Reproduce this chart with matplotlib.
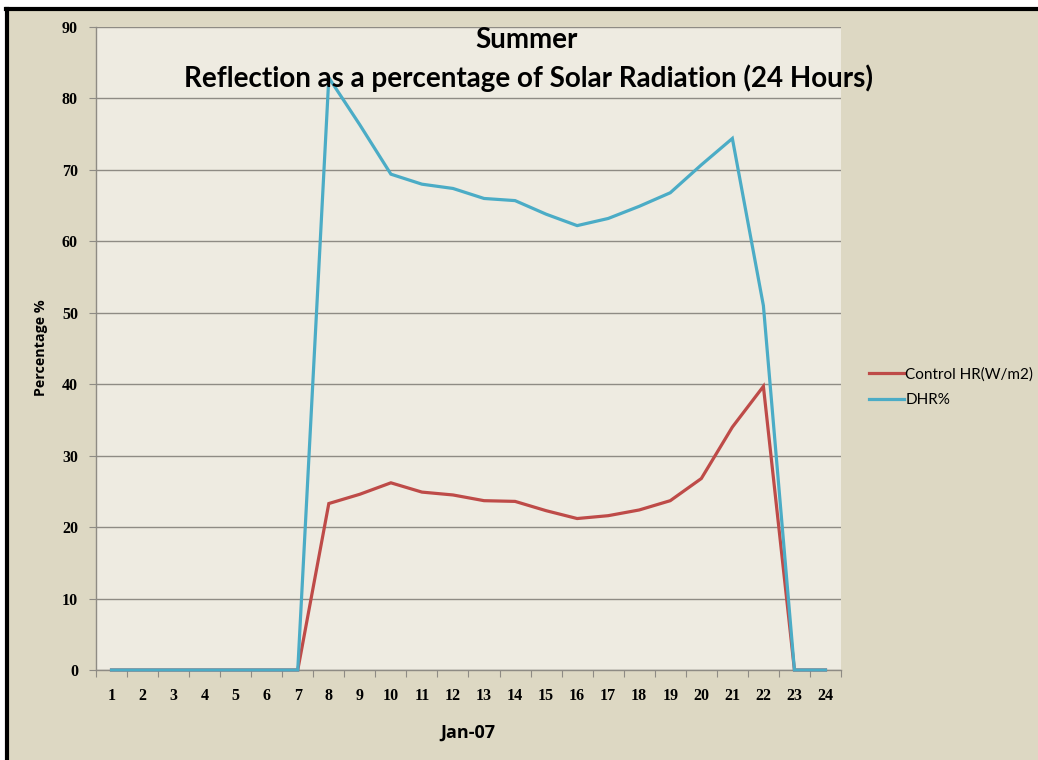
import matplotlib
matplotlib.use("Agg")
import matplotlib.pyplot as plt
from matplotlib.lines import Line2D
from matplotlib.patches import Rectangle

hours = list(range(1, 25))
hour_labels = [str(h) for h in hours]
control_hr = [0, 0, 0, 0, 0, 0, 0, 23.3, 24.6, 26.2, 24.9, 24.5, 23.7, 23.6,
              22.3, 21.2, 21.6, 22.4, 23.7, 26.8, 34.0, 39.7, 0, 0]
dhr = [0, 0, 0, 0, 0, 0, 0, 82.9, 76.3, 69.4, 68.0, 67.4, 66.0, 65.7,
       63.8, 62.2, 63.2, 64.9, 66.8, 70.7, 74.4, 51.0, 0, 0]
series_names = ["Control HR(W/m2)", "DHR%"]
series_colors = ["#BE4B48", "#4BACC6"]
y_ticks = list(range(0, 100, 10))
title_lines = ["Summer", "Reflection as a percentage of Solar Radiation (24 Hours)"]
x_title = "Jan-07"
y_title = "Percentage %"

W, H = 1038, 760
fig = plt.figure(figsize=(W / 100, H / 100), dpi=100)
fig.patch.set_facecolor("white")

# tan background panel with black left/top border
fig.patches.append(Rectangle((8 / W, 0), 1 - 8 / W, 1 - 9 / H, transform=fig.transFigure,
                             facecolor="#DDD8C3", edgecolor="none", zorder=-10))
fig.add_artist(Line2D([7 / W, 7 / W], [0, 1 - 8.5 / H], transform=fig.transFigure,
                      color="black", lw=3, zorder=-5))
fig.add_artist(Line2D([5.5 / W, 1], [1 - 8.5 / H, 1 - 8.5 / H], transform=fig.transFigure,
                      color="black", lw=3, zorder=-5))

ax = fig.add_axes([96 / W, 1 - 670 / H, (841 - 96) / W, (670 - 27) / H])
ax.set_facecolor("#EEEBE1")

for vals, name, col in zip([control_hr, dhr], series_names, series_colors):
    ax.plot(hours, vals, color=col, lw=2.3, label=name, solid_joinstyle="miter",
            zorder=3, clip_on=False)

ax.set_xlim(0.5, 24.5)
ax.set_ylim(0, 90)
ax.set_yticks(y_ticks)
ax.yaxis.grid(True, color="#8E8B84", lw=1.0)
ax.set_axisbelow(True)
for s in ["top", "right"]:
    ax.spines[s].set_visible(False)
for s in ["left", "bottom"]:
    ax.spines[s].set_color("#8E8B84")
    ax.spines[s].set_linewidth(1.0)

ax.set_xticks([h - 0.5 for h in hours] + [24.5])
ax.set_xticklabels([])
ax.set_xticks(hours, minor=True)
ax.set_xticklabels(hour_labels, minor=True)
ax.tick_params(axis="x", which="major", length=5, color="#8E8B84", direction="out")
ax.tick_params(axis="x", which="minor", length=0, pad=13)
ax.tick_params(axis="y", length=5, color="#8E8B84", direction="out", pad=8)
for lab in ax.get_yticklabels() + ax.get_xticklabels(minor=True):
    lab.set_fontfamily("Liberation Serif")
    lab.set_fontweight("bold")
    lab.set_fontsize(11.5)

ax.set_xlabel(x_title, fontsize=13, fontweight="bold", family="Open Sans")
ax.xaxis.set_label_coords((468 - 96) / (841 - 96), -(733 - 670) / (670 - 27))
ax.xaxis.label.set_va("center")
ax.set_ylabel(y_title, fontsize=10.3, fontweight="bold", family="Open Sans")
ax.yaxis.set_label_coords(-(96 - 41) / (841 - 96), (670 - 348) / (670 - 27))
ax.yaxis.label.set_va("center")

fig.text(527 / W, 1 - 40 / H, title_lines[0], ha="center", va="center",
         fontsize=20, fontweight="bold", family="Lato")
fig.text(528 / W, 1 - 78 / H, title_lines[1], ha="center", va="center",
         fontsize=20, fontweight="bold", family="Lato")

leg = ax.legend(loc="center left", bbox_to_anchor=(855 / W, 1 - 387 / H),
                bbox_transform=fig.transFigure, frameon=False,
                handlelength=2.3, handletextpad=0.1, labelspacing=0.75,
                prop=dict(family="Lato", size=11))

fig.savefig("out.png", dpi=100, facecolor=fig.get_facecolor())
